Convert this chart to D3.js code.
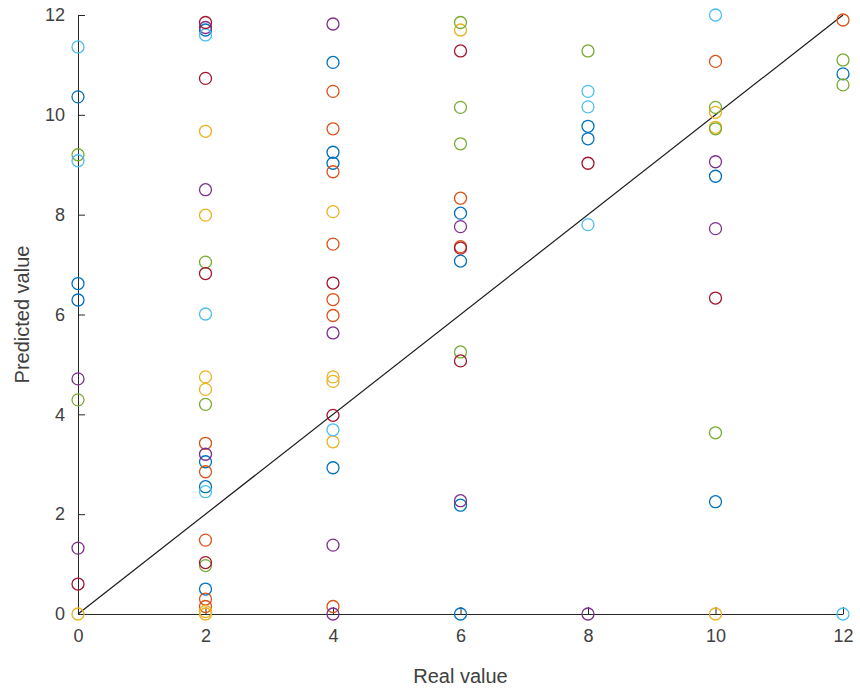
<!DOCTYPE html>
<html>
<head>
<meta charset="utf-8">
<script src="https://cdn.jsdelivr.net/npm/d3@7"></script>
<style>
  body { margin: 0; background: #fff; }
  text { font-family: "Liberation Sans", Arial, sans-serif; fill: #404040; }
</style>
</head>
<body>
<div id="chart"></div>
<script>
// axis ticks
const xTicks = [0, 2, 4, 6, 8, 10, 12];
const yTicks = [0, 2, 4, 6, 8, 10, 12];

// [real value, predicted value] per colour group
const blueSeries = [[0,10.36],[0,6.62],[0,6.29],[2,11.7],[2,3.05],[2,2.55],[2,0.5],
  [4,11.05],[4,9.25],[4,9.03],[4,2.93],[6,8.03],[6,7.07],[6,2.18],[6,0],
  [8,9.77],[8,9.52],[10,8.77],[10,2.25],[12,10.82]];
const orangeSeries = [[2,3.42],[2,2.85],[2,1.48],[2,0.3],[2,0.15],
  [4,10.47],[4,9.72],[4,8.86],[4,7.41],[4,6.3],[4,5.98],[4,0.15],
  [6,8.33],[6,7.36],[10,11.07],[12,11.9]];
const yellowSeries = [[0,0],[2,9.67],[2,7.99],[2,4.75],[2,4.5],[2,0.05],[2,0],
  [4,8.06],[4,4.75],[4,4.66],[4,3.45],[6,11.7],[10,10.05],[10,9.75],[10,0]];
const purpleSeries = [[0,4.71],[0,1.32],[2,11.75],[2,8.5],[2,3.2],
  [4,11.82],[4,5.63],[4,1.38],[4,0],[6,7.76],[6,2.27],[8,0],[10,9.06],[10,7.72]];
const greenSeries = [[0,9.2],[0,4.29],[2,7.05],[2,4.2],[2,0.97],
  [6,11.85],[6,10.15],[6,9.42],[6,5.25],[8,11.28],[10,10.15],[10,9.72],[10,3.63],
  [12,11.1],[12,10.6]];
const cyanSeries = [[0,11.36],[0,9.08],[2,11.6],[2,6.01],[2,2.45],[4,3.69],
  [8,10.47],[8,10.16],[8,7.8],[10,12.0],[12,0]];
const darkRedSeries = [[0,0.6],[2,11.85],[2,10.73],[2,6.82],[2,1.03],[4,6.63],[4,3.98],
  [6,11.28],[6,7.33],[6,5.07],[8,9.03],[10,6.33]];

const groups = [
  { pts: blueSeries, color: "#0072BD" },
  { pts: orangeSeries, color: "#D95319" },
  { pts: yellowSeries, color: "#EDB120" },
  { pts: purpleSeries, color: "#7E2F8E" },
  { pts: greenSeries, color: "#77AC30" },
  { pts: cyanSeries, color: "#4DBEEE" },
  { pts: darkRedSeries, color: "#A2142F" }
];

const width = 860, height = 693;
const margin = { top: 15, right: 17, bottom: 79, left: 78 };

const svg = d3.select("#chart")
  .append("svg")
  .attr("width", width)
  .attr("height", height);

const x = d3.scaleLinear().domain([0, 12]).range([margin.left, width - margin.right]);
const y = d3.scaleLinear().domain([0, 12]).range([height - margin.bottom, margin.top]);

// Axes (ticks inside, MATLAB style)
const xAxis = svg.append("g")
  .attr("transform", `translate(0,${y(0)})`)
  .call(d3.axisBottom(x).tickValues(xTicks).tickSizeInner(-7).tickSizeOuter(0).tickPadding(15));
const yAxis = svg.append("g")
  .attr("transform", `translate(${x(0)},0)`)
  .call(d3.axisLeft(y).tickValues(yTicks).tickSizeInner(-7).tickSizeOuter(0).tickPadding(13));

[xAxis, yAxis].forEach(g => {
  g.select(".domain").attr("stroke", "#262626").attr("stroke-width", 1);
  g.selectAll(".tick line").attr("stroke", "#262626");
  g.selectAll("text").style("font-size", "18px").attr("fill", "#404040");
});

// identity line
svg.append("line")
  .attr("x1", x(0)).attr("y1", y(0))
  .attr("x2", x(12)).attr("y2", y(12))
  .attr("stroke", "#1a1a1a")
  .attr("stroke-width", 1.2);

// points
groups.forEach(gr => {
  svg.append("g")
    .selectAll("circle")
    .data(gr.pts)
    .join("circle")
    .attr("cx", d => x(d[0]))
    .attr("cy", d => y(d[1]))
    .attr("r", 6)
    .attr("fill", "none")
    .attr("stroke", gr.color)
    .attr("stroke-width", 1.3);
});

// labels
svg.append("text")
  .attr("x", (x(0) + x(12)) / 2)
  .attr("y", 683)
  .attr("text-anchor", "middle")
  .style("font-size", "20px")
  .text("Real value");

svg.append("text")
  .attr("transform", `translate(29,${(y(0) + y(12)) / 2}) rotate(-90)`)
  .attr("text-anchor", "middle")
  .style("font-size", "20px")
  .text("Predicted value");
</script>
</body>
</html>
